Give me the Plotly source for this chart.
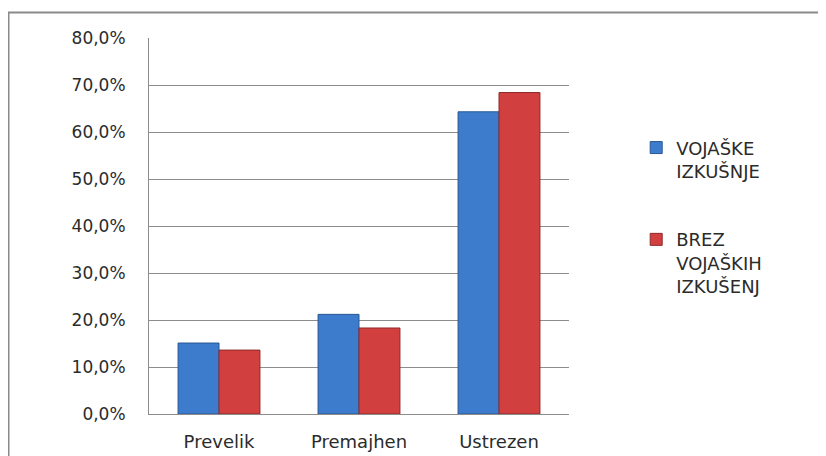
import plotly.graph_objects as go

categories = ["Prevelik", "Premajhen", "Ustrezen"]
vojaske = [15.1, 21.2, 64.3]
brez = [13.6, 18.3, 68.4]
series_names = ["VOJAŠKE<br>IZKUŠNJE", "BREZ<br>VOJAŠKIH<br>IZKUŠENJ"]
y_ticks = [0, 10, 20, 30, 40, 50, 60, 70, 80]
y_labels = [f"{v:.1f}".replace(".", ",") + "%" for v in y_ticks]

blue = "#3d7bcc"
red = "#d13f3f"
grid = "#8c8c8c"
font = "DejaVu Sans"

fig = go.Figure()
fig.add_trace(go.Bar(x=categories, y=vojaske, name=series_names[0], legendgroup="a",
                     marker=dict(color=blue, line=dict(color="#2a5894", width=1))))
fig.add_trace(go.Bar(x=categories, y=brez, name=series_names[1], legendgroup="b",
                     marker=dict(color=red, line=dict(color="#8e2a2a", width=1))))

# outer chart border (only top and left visible in the crop)
fig.add_shape(type="rect", xref="paper", yref="paper",
              x0=-0.3345, x1=1.7, y0=-0.3, y1=1.0678,
              line=dict(color="#8a8a8a", width=2), layer="below")

fig.update_layout(
    width=826, height=456,
    margin=dict(l=141, r=265, t=30, b=50),
    paper_bgcolor="white", plot_bgcolor="white",
    barmode="group", bargap=0.415, bargroupgap=0,
    font=dict(family=font, size=17, color="#2b2b2b"),
    legend=dict(x=1.16, y=0.757, xanchor="left", yanchor="top", valign="top",
                font=dict(size=18), tracegroupgap=42,
                itemwidth=30, bgcolor="rgba(0,0,0,0)"),
    showlegend=True,
)
fig.update_xaxes(showline=True, linecolor=grid, linewidth=1, ticks="", automargin=False,
                 ticklabelstandoff=11, tickfont=dict(size=18))
fig.update_yaxes(range=[0, 80], tickvals=y_ticks, ticktext=y_labels, automargin=False,
                 showgrid=True, gridcolor=grid, gridwidth=1,
                 showline=True, linecolor=grid, linewidth=1, ticks="",
                 ticklabelstandoff=19, zeroline=False, tickfont=dict(size=17))

fig.write_html("out.html")
